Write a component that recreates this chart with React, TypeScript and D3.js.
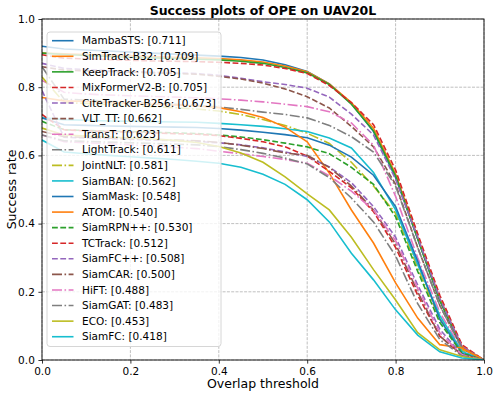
import React, { useRef, useEffect } from "react";
import { select, scaleLinear, line, axisBottom, axisLeft, format } from "d3";

// overlap thresholds 0..1 step 0.05
const thresholds = [0, 0.05, 0.1, 0.15, 0.2, 0.25, 0.3, 0.35, 0.4, 0.45, 0.5, 0.55, 0.6, 0.65, 0.7, 0.75, 0.8, 0.85, 0.9, 0.95, 1.0];
const tickValues = [0, 0.2, 0.4, 0.6, 0.8, 1.0];

const trackers = ["MambaSTS", "SimTrack-B32", "KeepTrack", "MixFormerV2-B", "CiteTracker-B256", "VLT_TT", "TransT", "LightTrack", "JointNLT", "SiamBAN", "SiamMask", "ATOM", "SiamRPN++", "TCTrack", "SiamFC++", "SiamCAR", "HiFT", "SiamGAT", "ECO", "SiamFC"];
const scores = [0.711, 0.709, 0.705, 0.705, 0.673, 0.662, 0.623, 0.611, 0.581, 0.562, 0.548, 0.540, 0.530, 0.512, 0.508, 0.500, 0.488, 0.483, 0.453, 0.418];

const mambaSTS = [0.92, 0.912, 0.909, 0.906, 0.903, 0.9, 0.897, 0.894, 0.891, 0.887, 0.88, 0.866, 0.846, 0.81, 0.752, 0.67, 0.535, 0.355, 0.175, 0.035, 0];
const simTrack = [0.9, 0.898, 0.896, 0.894, 0.892, 0.89, 0.888, 0.886, 0.884, 0.88, 0.874, 0.862, 0.845, 0.81, 0.755, 0.68, 0.545, 0.36, 0.18, 0.04, 0];
const keepTrack = [0.9, 0.896, 0.893, 0.89, 0.888, 0.886, 0.884, 0.882, 0.88, 0.876, 0.87, 0.858, 0.842, 0.808, 0.75, 0.672, 0.54, 0.355, 0.175, 0.035, 0];
const mixFormer = [0.895, 0.885, 0.883, 0.881, 0.879, 0.877, 0.876, 0.875, 0.873, 0.87, 0.865, 0.855, 0.84, 0.805, 0.755, 0.69, 0.557, 0.37, 0.19, 0.045, 0];
const citeTracker = [0.87, 0.855, 0.852, 0.849, 0.846, 0.844, 0.842, 0.84, 0.835, 0.826, 0.816, 0.808, 0.797, 0.771, 0.721, 0.66, 0.53, 0.36, 0.18, 0.04, 0];
const vltTT = [0.86, 0.85, 0.848, 0.846, 0.844, 0.842, 0.84, 0.838, 0.832, 0.824, 0.812, 0.795, 0.772, 0.739, 0.685, 0.625, 0.515, 0.33, 0.16, 0.035, 0];
const transT = [0.82, 0.785, 0.78, 0.777, 0.775, 0.773, 0.771, 0.769, 0.766, 0.762, 0.757, 0.75, 0.743, 0.728, 0.695, 0.63, 0.48, 0.3, 0.14, 0.03, 0];
const lightTrack = [0.86, 0.765, 0.762, 0.759, 0.756, 0.753, 0.75, 0.747, 0.742, 0.735, 0.727, 0.72, 0.71, 0.688, 0.655, 0.61, 0.51, 0.33, 0.16, 0.035, 0];
const jointNLT = [0.83, 0.755, 0.752, 0.749, 0.746, 0.743, 0.74, 0.736, 0.73, 0.72, 0.705, 0.688, 0.665, 0.635, 0.58, 0.51, 0.43, 0.27, 0.12, 0.03, 0];
const siamBAN = [0.71, 0.705, 0.703, 0.701, 0.7, 0.699, 0.698, 0.697, 0.694, 0.69, 0.685, 0.678, 0.67, 0.651, 0.622, 0.55, 0.44, 0.28, 0.13, 0.025, 0];
const siamMask = [0.71, 0.69, 0.688, 0.686, 0.685, 0.684, 0.683, 0.682, 0.679, 0.674, 0.668, 0.661, 0.652, 0.63, 0.595, 0.542, 0.45, 0.29, 0.12, 0.02, 0];
const atom = [0.77, 0.76, 0.758, 0.755, 0.752, 0.75, 0.748, 0.745, 0.74, 0.728, 0.711, 0.683, 0.64, 0.548, 0.44, 0.343, 0.226, 0.123, 0.045, 0.035, 0];
const siamRPNpp = [0.7, 0.675, 0.673, 0.671, 0.67, 0.668, 0.666, 0.664, 0.66, 0.654, 0.646, 0.636, 0.625, 0.605, 0.565, 0.515, 0.42, 0.26, 0.11, 0.02, 0];
const tcTrack = [0.72, 0.675, 0.672, 0.67, 0.668, 0.666, 0.664, 0.662, 0.658, 0.65, 0.64, 0.625, 0.598, 0.553, 0.505, 0.435, 0.33, 0.19, 0.07, 0.015, 0];
const siamFCpp = [0.79, 0.653, 0.651, 0.649, 0.647, 0.645, 0.643, 0.641, 0.637, 0.631, 0.622, 0.61, 0.597, 0.566, 0.52, 0.45, 0.36, 0.22, 0.09, 0.015, 0];
const siamCAR = [0.67, 0.655, 0.653, 0.651, 0.649, 0.647, 0.645, 0.643, 0.638, 0.63, 0.62, 0.607, 0.6, 0.565, 0.51, 0.44, 0.34, 0.2, 0.07, 0.015, 0];
const hiFT = [0.66, 0.64, 0.637, 0.634, 0.631, 0.628, 0.624, 0.62, 0.612, 0.605, 0.597, 0.588, 0.577, 0.54, 0.495, 0.44, 0.35, 0.21, 0.08, 0.015, 0];
const siamGAT = [0.66, 0.643, 0.641, 0.639, 0.637, 0.635, 0.633, 0.631, 0.626, 0.617, 0.606, 0.592, 0.575, 0.535, 0.475, 0.405, 0.305, 0.165, 0.06, 0.012, 0];
const eco = [0.68, 0.66, 0.657, 0.654, 0.651, 0.648, 0.644, 0.638, 0.626, 0.607, 0.58, 0.537, 0.487, 0.44, 0.36, 0.265, 0.176, 0.08, 0.03, 0.01, 0];
const siamFC = [0.645, 0.61, 0.605, 0.6, 0.596, 0.592, 0.588, 0.583, 0.577, 0.565, 0.545, 0.515, 0.47, 0.405, 0.313, 0.235, 0.147, 0.073, 0.024, 0.006, 0];

const series = [mambaSTS, simTrack, keepTrack, mixFormer, citeTracker, vltTT, transT, lightTrack, jointNLT, siamBAN, siamMask, atom, siamRPNpp, tcTrack, siamFCpp, siamCAR, hiFT, siamGAT, eco, siamFC];

const tab10 = ["#1f77b4", "#ff7f0e", "#2ca02c", "#d62728", "#9467bd", "#8c564b", "#e377c2", "#7f7f7f", "#bcbd22", "#17becf"];
const styles = ["-", "-", "-", "--", "--", "--", "-.", "-.", "-.", "-", "-", "-", "--", "--", "--", "-.", "-.", "-.", "-", "-"];

const dashFor = (s: string) => (s === "--" ? "5.8,2.5" : s === "-." ? "10,2.5,1.6,2.5" : null);

const font = "'DejaVu Sans', sans-serif";

const App = () => {
  const svgRef = useRef<SVGSVGElement>(null);

  useEffect(() => {
    const svg = select(svgRef.current);
    svg.selectAll("*").remove();

    const left = 42, right = 484, top = 19, bottom = 360;

    //scales
    const xScale = scaleLinear().domain([0, 1]).range([left, right]);
    const yScale = scaleLinear().domain([0, 1]).range([bottom, top]);

    //grid
    const grid = svg.append("g");
    tickValues.forEach((t) => {
      grid.append("line")
        .attr("x1", xScale(t)).attr("x2", xScale(t))
        .attr("y1", top).attr("y2", bottom)
        .attr("stroke", "#b0b0b0").attr("stroke-width", 0.8)
        .attr("stroke-dasharray", "3,1.3");
      grid.append("line")
        .attr("x1", left).attr("x2", right)
        .attr("y1", yScale(t)).attr("y2", yScale(t))
        .attr("stroke", "#b0b0b0").attr("stroke-width", 0.8)
        .attr("stroke-dasharray", "3,1.3");
    });

    //curves
    const myLine = line<number>()
      .x((d, i) => xScale(thresholds[i]))
      .y((d) => yScale(d));

    svg.append("clipPath").attr("id", "plot-clip")
      .append("rect").attr("x", left).attr("y", top)
      .attr("width", right - left).attr("height", bottom - top);

    svg.append("g")
      .attr("clip-path", "url(#plot-clip)")
      .selectAll("path")
      .data(series)
      .join("path")
      .attr("d", (d) => myLine(d))
      .attr("fill", "none")
      .attr("stroke", (d, i) => tab10[i % 10])
      .attr("stroke-width", 1.6)
      .attr("stroke-dasharray", (d, i) => dashFor(styles[i]));

    //axes
    const xAxis = axisBottom(xScale).tickValues(tickValues).tickFormat(format(".1f")).tickSizeOuter(0).tickSize(3.6).tickPadding(3.6);
    const gx = svg.append("g").attr("transform", `translate(0,${bottom})`).call(xAxis);
    const yAxis = axisLeft(yScale).tickValues(tickValues).tickFormat(format(".1f")).tickSizeOuter(0).tickSize(3.6).tickPadding(3.6);
    const gy = svg.append("g").attr("transform", `translate(${left},0)`).call(yAxis);
    [gx, gy].forEach((g) => {
      g.select(".domain").remove();
      g.selectAll("text").style("font-family", font).attr("font-size", 10.5).attr("fill", "#000");
      g.selectAll("line").attr("stroke", "#000").attr("stroke-width", 0.8);
    });

    svg.append("rect")
      .attr("x", left).attr("y", top)
      .attr("width", right - left).attr("height", bottom - top)
      .attr("fill", "none").attr("stroke", "#000").attr("stroke-width", 0.9);

    //labels
    svg.append("text")
      .attr("x", (left + right) / 2).attr("y", 14.5)
      .attr("text-anchor", "middle")
      .style("font-family", font).attr("font-size", 12.5).attr("font-weight", "bold")
      .text("Success plots of OPE on UAV20L");
    svg.append("text")
      .attr("x", (left + right) / 2).attr("y", 388)
      .attr("text-anchor", "middle")
      .style("font-family", font).attr("font-size", 12.5)
      .text("Overlap threshold");
    svg.append("text")
      .attr("transform", `translate(16,${(top + bottom) / 2}) rotate(-90)`)
      .attr("text-anchor", "middle")
      .style("font-family", font).attr("font-size", 12.5)
      .text("Success rate");

    //legend
    const lg = svg.append("g");
    lg.append("rect")
      .attr("x", 47).attr("y", 32).attr("width", 174).attr("height", 314.5).attr("rx", 3)
      .attr("fill", "#fff").attr("fill-opacity", 0.8)
      .attr("stroke", "#d6d6d6").attr("stroke-width", 1);
    trackers.forEach((name, i) => {
      const y = 40.7 + i * 15.58;
      lg.append("line")
        .attr("x1", 52).attr("x2", 73.5).attr("y1", y).attr("y2", y)
        .attr("stroke", tab10[i % 10]).attr("stroke-width", 1.6)
        .attr("stroke-dasharray", dashFor(styles[i]));
      lg.append("text")
        .attr("x", 82).attr("y", y).attr("dy", "0.35em")
        .style("font-family", font).attr("font-size", 10.5)
        .text(`${name}: [${scores[i].toFixed(3)}]`);
    });
  }, []);

  return (
    <svg ref={svgRef} width={498} height={396} style={{ position: "absolute", left: 0, top: 0, background: "#fff" }} />
  );
};

export default App;
